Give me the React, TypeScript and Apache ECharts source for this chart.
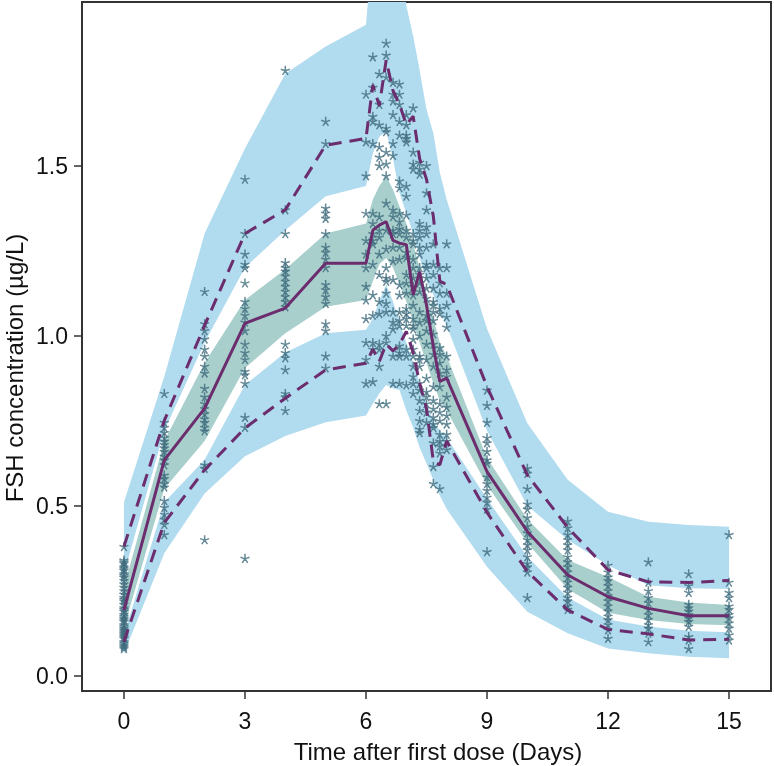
import React, { useEffect, useRef } from "react";
import * as echarts from "echarts";

// Bin times (days)
const binTimes = [0, 1, 2, 3, 4, 5, 6, 6.17, 6.33, 6.5, 6.67, 6.83, 7, 7.17, 7.33, 7.5, 7.67, 7.83, 8, 9, 10, 11, 12, 13, 14, 15];

// Observed percentiles (µg/L)
const obsMedian = [0.193, 0.634, 0.786, 1.036, 1.081, 1.213, 1.213, 1.31, 1.325, 1.335, 1.28, 1.272, 1.267, 1.12, 1.188, 1.09, 0.968, 0.865, 0.875, 0.6, 0.424, 0.296, 0.232, 0.198, 0.176, 0.176];
const obsP95 = [0.38, 0.75, 1.03, 1.3, 1.37, 1.56, 1.58, 1.737, 1.676, 1.81, 1.72, 1.68, 1.62, 1.645, 1.52, 1.46, 1.35, 1.16, 1.15, 0.85, 0.59, 0.436, 0.311, 0.276, 0.274, 0.28];
const obsP05 = [0.1, 0.45, 0.605, 0.728, 0.816, 0.899, 0.919, 0.96, 0.924, 0.975, 0.955, 0.975, 1.012, 0.95, 0.86, 0.785, 0.63, 0.62, 0.69, 0.48, 0.306, 0.193, 0.136, 0.123, 0.105, 0.107];

// Simulated confidence intervals
const p95CiHigh = [0.51, 0.88, 1.3, 1.55, 1.77, 1.85, 1.914, 2.16, 2.3, 2.35, 2.3, 2.15, 1.97, 1.88, 1.78, 1.665, 1.595, 1.48, 1.4, 1.02, 0.742, 0.576, 0.482, 0.453, 0.443, 0.438];
const p95CiLow = [0.3, 0.72, 0.98, 1.2, 1.31, 1.41, 1.44, 1.536, 1.585, 1.6, 1.52, 1.42, 1.36, 1.3, 1.23, 1.16, 1.12, 1.07, 1.03, 0.72, 0.5, 0.4, 0.325, 0.266, 0.257, 0.255];
const medCiHigh = [0.26, 0.69, 0.92, 1.105, 1.195, 1.3, 1.33, 1.4, 1.44, 1.468, 1.43, 1.38, 1.33, 1.27, 1.2, 1.12, 1.05, 0.98, 0.94, 0.64, 0.46, 0.34, 0.29, 0.232, 0.215, 0.208];
const medCiLow = [0.14, 0.55, 0.69, 0.905, 1.007, 1.085, 1.105, 1.16, 1.21, 1.228, 1.2, 1.15, 1.1, 1.04, 0.98, 0.92, 0.86, 0.81, 0.78, 0.56, 0.39, 0.255, 0.185, 0.164, 0.152, 0.148];
const p05CiHigh = [0.12, 0.51, 0.635, 0.855, 0.95, 1.007, 1.017, 1.05, 1.1, 1.15, 1.1, 1.04, 0.98, 0.92, 0.86, 0.8, 0.75, 0.72, 0.7, 0.52, 0.35, 0.23, 0.165, 0.145, 0.132, 0.128];
const p05CiLow = [0.065, 0.36, 0.536, 0.645, 0.705, 0.745, 0.765, 0.8, 0.83, 0.855, 0.845, 0.84, 0.78, 0.73, 0.67, 0.625, 0.575, 0.53, 0.49, 0.32, 0.188, 0.125, 0.08, 0.066, 0.056, 0.051];

// Observed concentrations, one list per bin time
const observations = [
  [0.38, 0.34, 0.335, 0.33, 0.32, 0.315, 0.31, 0.3, 0.295, 0.29, 0.28, 0.27, 0.26, 0.25, 0.24, 0.23, 0.225, 0.22, 0.21, 0.2, 0.195, 0.19, 0.18, 0.175, 0.17, 0.165, 0.16, 0.15, 0.145, 0.14, 0.135, 0.13, 0.125, 0.12, 0.115, 0.11, 0.1, 0.095, 0.09, 0.085, 0.08],
  [0.83, 0.745, 0.73, 0.715, 0.7, 0.69, 0.68, 0.67, 0.66, 0.645, 0.635, 0.62, 0.59, 0.58, 0.565, 0.555, 0.515, 0.495, 0.475, 0.46, 0.445, 0.415],
  [1.13, 1.035, 1.015, 0.99, 0.96, 0.94, 0.91, 0.89, 0.845, 0.82, 0.8, 0.785, 0.77, 0.755, 0.745, 0.73, 0.72, 0.62, 0.61, 0.4],
  [1.46, 1.3, 1.24, 1.21, 1.2, 1.155, 1.1, 1.08, 1.06, 1.04, 1.015, 0.975, 0.95, 0.93, 0.895, 0.885, 0.86, 0.76, 0.73, 0.345],
  [1.78, 1.37, 1.3, 1.215, 1.2, 1.19, 1.175, 1.16, 1.145, 1.13, 1.115, 1.1, 1.085, 0.975, 0.95, 0.935, 0.9, 0.83, 0.82, 0.78],
  [1.63, 1.565, 1.375, 1.36, 1.345, 1.3, 1.26, 1.245, 1.225, 1.2, 1.15, 1.135, 1.115, 1.095, 1.035, 1.015, 0.94, 0.905],
  [1.71, 1.57, 1.47, 1.36, 1.28, 1.24, 1.2, 1.145, 1.105, 1.05, 0.98, 0.93, 0.86],
  [1.82, 1.73, 1.645, 1.63, 1.565, 1.36, 1.33, 1.3, 1.28, 1.27, 1.21, 1.12, 1.06, 0.98, 0.96, 0.865],
  [1.77, 1.68, 1.62, 1.555, 1.525, 1.5, 1.35, 1.31, 1.29, 1.24, 1.18, 1.1, 1.065, 0.975, 0.96, 0.91, 0.8],
  [1.86, 1.825, 1.76, 1.61, 1.6, 1.54, 1.505, 1.47, 1.39, 1.31, 1.255, 1.2, 1.17, 1.16, 1.125, 1.095, 1.07, 1.0, 0.98, 0.8],
  [1.745, 1.71, 1.69, 1.65, 1.565, 1.53, 1.37, 1.35, 1.31, 1.3, 1.26, 1.22, 1.165, 1.07, 1.04, 1.02, 0.94, 0.86],
  [1.74, 1.71, 1.68, 1.63, 1.59, 1.455, 1.435, 1.36, 1.335, 1.315, 1.3, 1.26, 1.225, 1.15, 1.12, 1.07, 1.045, 1.03, 0.97, 0.95, 0.94, 0.86],
  [1.65, 1.62, 1.59, 1.58, 1.57, 1.44, 1.41, 1.355, 1.31, 1.29, 1.245, 1.23, 1.18, 1.155, 1.125, 1.08, 1.065, 1.05, 1.03, 0.96, 0.94, 0.855],
  [1.67, 1.54, 1.505, 1.49, 1.3, 1.28, 1.27, 1.225, 1.2, 1.17, 1.145, 1.12, 1.09, 1.05, 1.03, 1.02, 0.99, 0.96, 0.94, 0.91, 0.88, 0.86, 0.83],
  [1.51, 1.49, 1.475, 1.33, 1.31, 1.29, 1.26, 1.24, 1.2, 1.18, 1.155, 1.13, 1.07, 1.04, 1.0, 0.94, 0.93, 0.91, 0.86, 0.84, 0.81, 0.78, 0.75, 0.725, 0.715],
  [1.5, 1.42, 1.37, 1.32, 1.3, 1.26, 1.21, 1.2, 1.17, 1.14, 1.11, 1.06, 1.045, 1.015, 0.975, 0.93, 0.875, 0.835, 0.82, 0.8, 0.775, 0.745],
  [1.27, 1.21, 1.18, 1.14, 1.1, 1.09, 1.07, 1.045, 1.005, 0.975, 0.945, 0.91, 0.85, 0.81, 0.785, 0.76, 0.74, 0.73, 0.685, 0.615, 0.565],
  [1.2, 1.155, 1.125, 1.08, 1.065, 0.965, 0.945, 0.92, 0.89, 0.85, 0.8, 0.775, 0.75, 0.71, 0.69, 0.675, 0.655, 0.55],
  [1.27, 1.2, 1.125, 1.09, 1.055, 1.025, 0.94, 0.9, 0.88, 0.82, 0.79, 0.765, 0.74, 0.71, 0.69, 0.665],
  [0.84, 0.795, 0.745, 0.7, 0.685, 0.66, 0.635, 0.625, 0.585, 0.565, 0.545, 0.525, 0.51, 0.49, 0.365],
  [0.61, 0.595, 0.55, 0.505, 0.49, 0.465, 0.44, 0.42, 0.4, 0.385, 0.37, 0.35, 0.33, 0.32, 0.305, 0.23],
  [0.455, 0.435, 0.415, 0.4, 0.385, 0.37, 0.35, 0.335, 0.32, 0.305, 0.29, 0.275, 0.26, 0.245, 0.23, 0.22, 0.205, 0.195],
  [0.325, 0.305, 0.29, 0.28, 0.265, 0.25, 0.235, 0.22, 0.205, 0.19, 0.175, 0.165, 0.15, 0.135, 0.11],
  [0.335, 0.275, 0.25, 0.23, 0.215, 0.195, 0.18, 0.165, 0.15, 0.14, 0.125, 0.1],
  [0.3, 0.265, 0.245, 0.21, 0.2, 0.19, 0.18, 0.17, 0.16, 0.145, 0.115, 0.105, 0.08],
  [0.415, 0.275, 0.245, 0.23, 0.205, 0.195, 0.18, 0.17, 0.155, 0.14, 0.12, 0.105],
];

const xTicks = [0, 3, 6, 9, 12, 15];
const yTicks = [0, 0.5, 1.0, 1.5];

const BLUE = "#b1dbee";
const TEAL = "#a9cfcd";
const PURPLE = "#6b2d6d";
const STAR = "#3f6c7d";
const FONT = "'Liberation Sans', Arial, sans-serif";

const STAR_PATH =
  "path://M5 5L5 0M5 5L9.76 3.45M5 5L7.94 9.05M5 5L2.06 9.05M5 5L0.24 3.45";

function bandSeries(hi: number[], lo: number[], color: string, z: number) {
  return {
    type: "custom",
    clip: true,
    silent: true,
    z,
    data: [[0, 0]],
    renderItem: (params: any, api: any) => {
      const pts: number[][] = [];
      for (let i = 0; i < binTimes.length; i++) pts.push(api.coord([binTimes[i], hi[i]]));
      for (let i = binTimes.length - 1; i >= 0; i--) pts.push(api.coord([binTimes[i], lo[i]]));
      return { type: "polygon", shape: { points: pts }, style: { fill: color } };
    },
  };
}

function lineSeries(values: number[], dashed: boolean) {
  return {
    type: "line",
    z: 5,
    symbol: "none",
    silent: true,
    data: binTimes.map((t, i) => [t, values[i]]),
    lineStyle: { color: PURPLE, width: 3, type: dashed ? [13, 8] : "solid" },
  };
}

export default function App() {
  const ref = useRef<HTMLDivElement>(null);
  useEffect(() => {
    if (!ref.current) return;
    const chart = echarts.init(ref.current, undefined, { renderer: "svg" });
    const points: number[][] = [];
    observations.forEach((col, i) => col.forEach((v) => points.push([binTimes[i], v])));
    chart.setOption({
      animation: false,
      grid: { left: 82, top: 2, right: 3, bottom: 75, show: true, borderColor: "#333", borderWidth: 2, backgroundColor: "transparent" },
      xAxis: {
        type: "value",
        min: -1.04,
        max: 16.04,
        splitLine: { show: false },
        axisLine: { show: false, onZero: false },
        axisTick: { show: true, length: 8, lineStyle: { color: "#333", width: 1.5 }, customValues: xTicks },
        axisLabel: { customValues: xTicks, fontSize: 23, color: "#111", fontFamily: FONT, margin: 18 },
      },
      yAxis: {
        type: "value",
        min: -0.045,
        max: 1.981,
        splitLine: { show: false },
        axisLine: { show: false, onZero: false },
        axisTick: { show: true, length: 8, lineStyle: { color: "#333", width: 1.5 }, customValues: yTicks },
        axisLabel: { customValues: yTicks, fontSize: 23, color: "#111", fontFamily: FONT, margin: 14, formatter: (v: number) => v.toFixed(1) },
      },
      graphic: [
        { type: "text", x: 438, y: 751, style: { text: "Time after first dose (Days)", font: `24px ${FONT}`, fill: "#111", align: "center", verticalAlign: "middle" } },
        { type: "text", x: 14, y: 368, rotation: Math.PI / 2, style: { text: "FSH concentration (µg/L)", font: `24px ${FONT}`, fill: "#111", align: "center", verticalAlign: "middle" } },
      ],
      series: [
        bandSeries(p95CiHigh, p95CiLow, BLUE, 1),
        bandSeries(p05CiHigh, p05CiLow, BLUE, 1),
        bandSeries(medCiHigh, medCiLow, TEAL, 2),
        {
          type: "scatter",
          z: 4,
          silent: true,
          symbol: STAR_PATH,
          symbolSize: 9,
          data: points,
          itemStyle: { color: "transparent", borderColor: STAR, borderWidth: 1.5 },
        },
        lineSeries(obsP95, true),
        lineSeries(obsP05, true),
        lineSeries(obsMedian, false),
      ],
    });
    return () => chart.dispose();
  }, []);
  return <div ref={ref} style={{ position: "fixed", left: 0, top: 0, width: 774, height: 766 }} />;
}
